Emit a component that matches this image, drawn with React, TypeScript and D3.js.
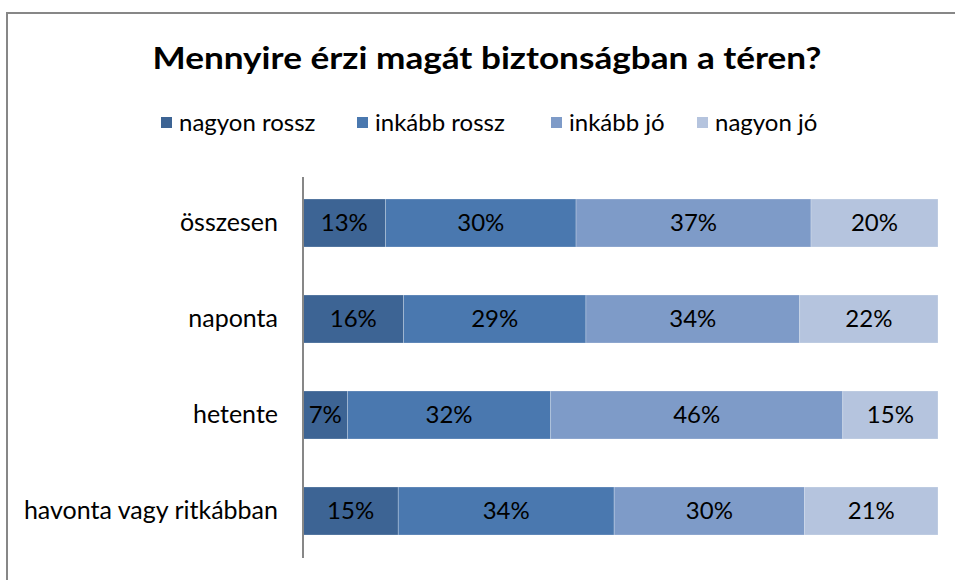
import React from "react";
import * as d3 from "d3";

const title = "Mennyire érzi magát biztonságban a téren?";
const categories = ["összesen", "naponta", "hetente", "havonta vagy ritkábban"];
const seriesNames = ["nagyon rossz", "inkább rossz", "inkább jó", "nagyon jó"];
const nagyonRossz = [13, 16, 7, 15];
const inkabbRossz = [30, 29, 32, 34];
const inkabbJo = [37, 34, 46, 30];
const nagyonJo = [20, 22, 15, 21];
const colors = ["#3D6494", "#4A78AF", "#7E9BC8", "#B5C4DE"];

const W = 955;
const H = 580;
const FONT = "Lato, 'Open Sans', sans-serif";

export default function App() {
  const seriesValues = [nagyonRossz, inkabbRossz, inkabbJo, nagyonJo];
  const rows = categories.map((c, i) => {
    const r: any = { cat: c };
    seriesNames.forEach((s, j) => (r[s] = seriesValues[j][i]));
    return r;
  });
  const stack = d3.stack<any>().keys(seriesNames).offset(d3.stackOffsetExpand);
  const layers = stack(rows);

  const x = d3.scaleLinear().domain([0, 1]).range([303, 938]);
  const y = d3.scaleBand().domain(categories).range([175, 559]).paddingInner(0.5).paddingOuter(0.25);

  const legendX = [161, 357, 551, 697];

  return (
    <svg width={W} height={H} style={{ position: "absolute", left: 0, top: 0, background: "#fff" }} fontFamily={FONT}>
      <rect x={7} y={13} width={W + 10} height={H + 10} fill="#fff" stroke="#878787" strokeWidth={2} />
      <text x={487} y={69} textAnchor="middle" fontSize={31} fontWeight="bold" fill="#000" textLength={669} lengthAdjust="spacingAndGlyphs">
        {title}
      </text>
      {seriesNames.map((s, i) => (
        <g key={s}>
          <rect x={legendX[i]} y={117} width={11} height={11} fill={colors[i]} />
          <text x={legendX[i] + 18} y={131} fontSize={24} fill="#000">
            {s}
          </text>
        </g>
      ))}
      {layers.map((layer, li) => (
        <g key={layer.key}>
          {layer.map((d, i) => {
            const x0 = x(d[0]);
            const x1 = x(d[1]);
            const yy = y(categories[i])!;
            return (
              <g key={i}>
                <rect x={x0} y={yy} width={x1 - x0} height={y.bandwidth()} fill={colors[li]} stroke="#ffffff" strokeOpacity={0.3} strokeWidth={0.8} />
                <text x={(x0 + x1) / 2} y={yy + y.bandwidth() / 2 + 8} textAnchor="middle" fontSize={24} fill="#000">
                  {seriesValues[li][i]}%
                </text>
              </g>
            );
          })}
        </g>
      ))}
      <line x1={303} x2={303} y1={177} y2={558} stroke="#878787" strokeWidth={2} />
      {categories.map((c) => (
        <text key={c} x={278} y={y(c)! + y.bandwidth() / 2 + 8} textAnchor="end" fontSize={25} fill="#000">
          {c}
        </text>
      ))}
    </svg>
  );
}
